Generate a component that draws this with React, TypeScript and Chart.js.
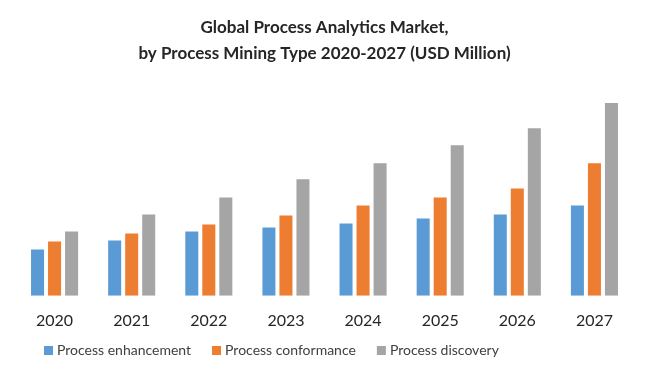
import React, { useEffect, useRef } from "react";
import { Chart, registerables } from "chart.js";

Chart.register(...registerables);

const years = ["2020", "2021", "2022", "2023", "2024", "2025", "2026", "2027"];
const enhancement = [46, 55, 64, 68, 72, 77, 81, 90];
const conformance = [54, 62, 71, 80, 90, 98, 107, 132];
const discovery = [64, 81, 98, 116, 132, 150, 167, 192];
const titleLines = ["Global Process Analytics Market,", "by Process Mining Type 2020-2027 (USD Million)"];

const font = "Lato, 'Open Sans', sans-serif";

const customLegend = {
  id: "customLegend",
  afterDraw(chart: any) {
    const ctx = chart.ctx;
    ctx.save();
    ctx.font = `14px ${font}`;
    ctx.textBaseline = "middle";
    ctx.textAlign = "left";
    let x = 44;
    const y = 350;
    chart.data.datasets.forEach((ds: any) => {
      ctx.fillStyle = ds.backgroundColor;
      ctx.fillRect(x, y - 4, 9, 9);
      ctx.fillStyle = "#404040";
      ctx.fillText(ds.label, x + 13, y);
      x += 13 + ctx.measureText(ds.label).width + 21;
    });
    ctx.restore();
  },
};

export default function App() {
  const ref = useRef<HTMLCanvasElement | null>(null);
  useEffect(() => {
    if (!ref.current) return;
    const chart = new Chart(ref.current, {
      type: "bar",
      data: {
        labels: years,
        datasets: [
          { label: "Process enhancement", data: enhancement, backgroundColor: "#5B9BD5" },
          { label: "Process conformance", data: conformance, backgroundColor: "#ED7D31" },
          { label: "Process discovery", data: discovery, backgroundColor: "#A5A5A5" },
        ],
      },
      options: {
        animation: false,
        responsive: false,
        maintainAspectRatio: false,
        layout: { padding: { left: 16, right: 17, top: 0, bottom: 34 } },
        datasets: { bar: { categoryPercentage: 0.662, barPercentage: 0.765 } },
        scales: {
          x: {
            grid: { display: false, drawTicks: false },
            border: { display: false },
            ticks: { color: "#262626", font: { family: font, size: 16 }, padding: 15 },
          },
          y: { display: false, min: 0, max: 210 },
        },
        plugins: {
          title: {
            display: true,
            text: titleLines,
            color: "#262626",
            font: { family: font, size: 17, weight: "bold", lineHeight: 1.5 },
            padding: { top: 15, bottom: 19 },
          },
          legend: { display: false },
          tooltip: { enabled: false },
        },
      },
      plugins: [customLegend],
    });
    return () => chart.destroy();
  }, []);
  return (
    <div style={{ position: "fixed", left: 0, top: 0, width: 650, height: 379, background: "#fff" }}>
      <canvas ref={ref} width={650} height={379} style={{ width: 650, height: 379 }} />
    </div>
  );
}
